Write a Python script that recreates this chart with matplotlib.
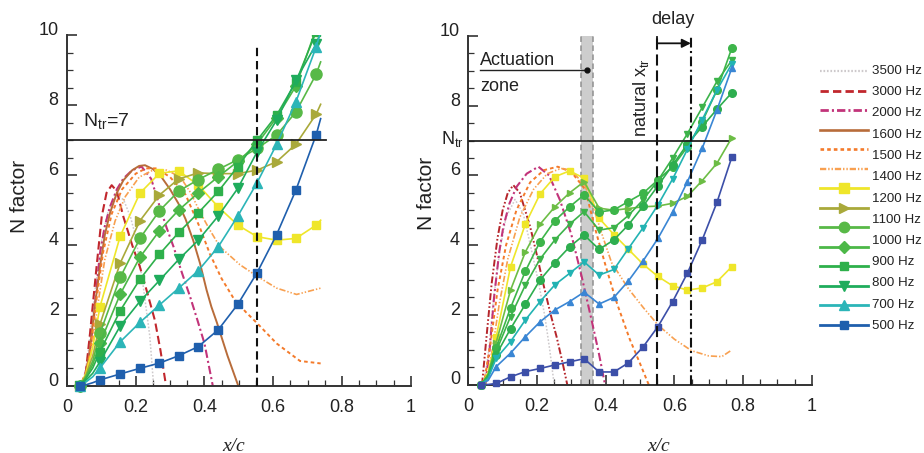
import numpy as np
import matplotlib
matplotlib.use("Agg")
import matplotlib.pyplot as plt
from matplotlib.ticker import MultipleLocator
import matplotlib.transforms as mtransforms

plt.rcParams['font.family'] = ['Liberation Sans', 'DejaVu Sans']
plt.rcParams['lines.scale_dashes'] = False

# ---------------- left panel data (baseline, N_tr = 7) ----------------
# marker curves share one x list; index 1 and 2 are line-only points
xl = [0.038, 0.055, 0.075, 0.096, 0.155, 0.212, 0.269, 0.325, 0.382, 0.44,
      0.497, 0.553, 0.61, 0.666, 0.725, 0.738]
l_yellow_sq = [0, 0.35, 1.1, 2.25, 4.27, 5.49, 6.06, 6.13, 5.72, 5.10, 4.58, 4.25, 4.15, 4.2, 4.58, 4.72]
l_olive_tri = [0, 0.3, 0.85, 1.75, 3.5, 4.7, 5.44, 5.9, 6.07, 6.05, 6.05, 6.15, 6.39, 6.89, 7.75, 8.03]
l_green_circ = [0, 0.25, 0.7, 1.49, 3.09, 4.2, 4.99, 5.55, 5.88, 6.17, 6.45, 6.77, 7.15, 7.81, 8.89, 9.24]
l_green_dia = [0, 0.22, 0.6, 1.21, 2.61, 3.66, 4.42, 5.01, 5.5, 5.96, 6.4, 6.9, 7.65, 8.55, 10.2, 10.6]
l_green_sq = [0, 0.2, 0.5, 0.97, 2.14, 3.03, 3.75, 4.37, 4.93, 5.54, 6.25, 7.0, 7.72, 8.67, 10.1, 10.5]
l_green_dn = [0, 0.15, 0.35, 0.68, 1.7, 2.4, 3.0, 3.6, 4.15, 4.84, 5.63, 6.67, 7.58, 8.72, 9.75, 10.1]
l_cyan_up = [0, 0.1, 0.25, 0.5, 1.25, 1.8, 2.3, 2.78, 3.28, 3.96, 4.84, 5.79, 6.89, 8.1, 9.67, 10.1]
l_blue_sq = [0, 0.02, 0.08, 0.16, 0.33, 0.49, 0.64, 0.85, 1.11, 1.59, 2.32, 3.22, 4.31, 5.58, 7.16, 7.62]
l_marker_idx = [0, 3, 4, 5, 6, 7, 8, 9, 10, 11, 12, 13, 14]

l_gray_x = [0.045, 0.06, 0.08, 0.1, 0.12, 0.145, 0.165, 0.185, 0.2, 0.222, 0.241, 0.252]
l_gray_y = [0, 0.8, 2.6, 4.1, 5.0, 5.45, 5.3, 4.8, 4.25, 2.82, 1.4, 0]
l_red_x = [0.04, 0.055, 0.067, 0.086, 0.101, 0.115, 0.13, 0.145, 0.164, 0.19, 0.212, 0.235, 0.256, 0.272, 0.288]
l_red_y = [0, 0.4, 1.49, 3.39, 4.82, 5.5, 5.72, 5.55, 4.82, 4.0, 3.39, 2.6, 1.85, 1.0, 0]
l_mag_x = [0.045, 0.062, 0.077, 0.096, 0.11, 0.125, 0.145, 0.164, 0.19, 0.217, 0.245, 0.27,
           0.29, 0.31, 0.335, 0.358, 0.38, 0.4, 0.424]
l_mag_y = [0, 0.6, 1.87, 3.78, 4.55, 5.1, 5.6, 5.91, 6.15, 6.25, 5.9, 5.1, 4.5, 3.96, 3.2, 2.54, 1.85, 1.2, 0]
l_brown_x = [0.048, 0.065, 0.08, 0.096, 0.11, 0.125, 0.145, 0.164, 0.19, 0.21, 0.227, 0.25, 0.275,
             0.3, 0.324, 0.345, 0.367, 0.387, 0.406, 0.42, 0.436, 0.467, 0.498]
l_brown_y = [0, 0.9, 2.2, 3.39, 4.3, 4.92, 5.5, 5.86, 6.15, 6.27, 6.29, 6.18, 5.95, 5.6, 5.2, 4.75,
             4.15, 3.49, 2.73, 2.25, 1.8, 0.85, 0]
l_orange_x = [0.048, 0.068, 0.085, 0.105, 0.13, 0.16, 0.2, 0.23, 0.261, 0.3, 0.345, 0.387, 0.416,
              0.45, 0.484, 0.52, 0.553, 0.61, 0.678, 0.738]
l_orange_y = [0, 1.0, 2.4, 3.8, 4.9, 5.6, 6.05, 6.2, 6.2, 5.95, 5.45, 4.5, 3.75, 3.05, 2.5, 2.1,
              1.78, 1.2, 0.7, 0.63]
l_lorange_x = [0.05, 0.07, 0.088, 0.11, 0.14, 0.17, 0.21, 0.25, 0.29, 0.33, 0.36, 0.387, 0.415,
               0.445, 0.503, 0.553, 0.61, 0.668, 0.738]
l_lorange_y = [0, 0.9, 2.2, 3.6, 4.7, 5.4, 5.95, 6.15, 6.15, 5.95, 5.5, 4.95, 4.45, 3.96, 3.45,
               3.12, 2.78, 2.6, 2.78]

# ---------------- right panel data (with actuation) ----------------
xr = [0.038, 0.058, 0.081, 0.123, 0.166, 0.209, 0.252, 0.295, 0.337, 0.381, 0.424, 0.466,
      0.509, 0.552, 0.595, 0.638, 0.681, 0.724, 0.767]
r_yellow_sq = [0, 0.35, 1.35, 3.38, 4.6, 5.47, 5.96, 6.13, 5.92, 4.77, 4.3, 3.88, 3.45, 3.1, 2.83, 2.71, 2.77, 2.95, 3.38]
r_lgreen_tri = [0, 0.3, 1.2, 2.71, 3.8, 4.6, 5.1, 5.5, 5.82, 5.06, 5.0, 5.05, 5.1, 5.12, 5.2, 5.4, 5.85, 6.35, 7.08]
r_green_circ = [0, 0.28, 1.05, 2.2, 3.25, 4.1, 4.7, 5.1, 5.44, 4.95, 5.01, 5.25, 5.49, 5.87, 6.25, 6.82, 7.54, 8.45, 9.65]
r_green_dn = [0, 0.25, 0.95, 1.95, 2.85, 3.6, 4.15, 4.6, 4.96, 4.43, 4.5, 4.85, 5.3, 5.85, 6.5, 7.2, 7.95, 8.7, 9.3]
r_green_circ2 = [0, 0.22, 0.85, 1.6, 2.3, 3.0, 3.5, 3.95, 4.29, 3.88, 4.15, 4.58, 5.12, 5.7, 6.3, 6.9, 7.4, 7.9, 8.37]
r_cyan_dn = [0, 0.18, 0.75, 1.23, 1.85, 2.38, 2.86, 3.19, 3.52, 3.14, 3.3, 3.9, 4.5, 5.15, 5.9, 6.75, 7.6, 8.45, 9.2]
r_blue_up = [0, 0.12, 0.51, 0.9, 1.37, 1.8, 2.14, 2.38, 2.65, 2.31, 2.5, 2.97, 3.55, 4.19, 4.95, 5.82, 6.78, 7.88, 9.08]
r_navy_sq = [0, 0.0, 0.03, 0.22, 0.37, 0.46, 0.56, 0.65, 0.74, 0.36, 0.36, 0.62, 1.08, 1.66, 2.38, 3.2, 4.15, 5.23, 6.52]
r_marker_idx = [0] + list(range(2, 19))

r_gray_x = [0.045, 0.06, 0.073, 0.092, 0.11, 0.136, 0.16, 0.184, 0.205, 0.223, 0.237, 0.25]
r_gray_y = [0, 1.0, 2.42, 3.86, 4.8, 5.31, 4.9, 3.86, 2.9, 1.95, 1.0, 0]
r_red_x = [0.04, 0.054, 0.068, 0.085, 0.1, 0.115, 0.131, 0.15, 0.18, 0.2, 0.218, 0.24, 0.257, 0.275, 0.288]
r_red_y = [0, 1.47, 2.9, 4.2, 5.0, 5.5, 5.72, 5.5, 4.53, 3.7, 2.9, 2.0, 1.37, 0.6, 0]
r_mag_x = [0.05, 0.062, 0.075, 0.09, 0.102, 0.12, 0.141, 0.17, 0.204, 0.235, 0.267, 0.3, 0.33, 0.36, 0.38, 0.398]
r_mag_y = [0, 1.0, 2.5, 3.8, 4.53, 5.2, 5.68, 6.05, 6.25, 6.0, 5.29, 4.3, 3.1, 1.8, 0.9, 0]
r_orange_x = [0.045, 0.065, 0.085, 0.11, 0.14, 0.18, 0.22, 0.26, 0.3, 0.34, 0.374, 0.4, 0.432, 0.47, 0.5, 0.525]
r_orange_y = [0, 1.2, 2.7, 4.0, 5.0, 5.8, 6.15, 6.25, 6.1, 5.6, 4.3, 3.4, 2.35, 1.3, 0.6, 0]
r_lorange_x = [0.05, 0.07, 0.09, 0.115, 0.15, 0.19, 0.23, 0.27, 0.3, 0.34, 0.37, 0.393, 0.417, 0.466,
               0.51, 0.553, 0.6, 0.65, 0.7, 0.738, 0.767]
r_lorange_y = [0, 1.0, 2.3, 3.6, 4.8, 5.6, 6.05, 6.2, 6.15, 5.7, 4.9, 4.2, 3.5, 2.75, 2.2, 1.7, 1.3,
               0.97, 0.82, 0.8, 0.99]

legend_labels = ['3500 Hz', '3000 Hz', '2000 Hz', '1600 Hz', '1500 Hz', '1400 Hz', '1200 Hz',
                 '1100 Hz', '1000 Hz', '900 Hz', '800 Hz', '700 Hz', '500 Hz']

# line styles
gray = dict(color='#cdc9cb', ls=(0, (1.2, 1.3)), lw=1.1)
red = dict(color='#c1272d', ls=(0, (6, 3)), lw=1.5)
red_r = dict(color='#b5252b', ls=(0, (5, 1.6, 1.2, 1.6, 1.2, 1.6)), lw=1.4)
mag = dict(color='#c2347a', ls=(0, (6, 2.2, 1.5, 2.2)), lw=1.5)
brown = dict(color='#b86c3a', ls='-', lw=1.4)
orange = dict(color='#f47a2a', ls=(0, (2.6, 2.2)), lw=1.4)
lorange = dict(color='#f8a050', ls=(0, (4.5, 1.4, 1, 1.4, 1, 1.4)), lw=1.2)

marker_styles = [
    dict(color='#efe62a', marker='s'),
    dict(color='#a9a93a', marker='>'),
    dict(color='#58b947', marker='o'),
    dict(color='#4cb848', marker='D'),
    dict(color='#2eb04b', marker='s'),
    dict(color='#1fac5c', marker='v'),
    dict(color='#2cb5b8', marker='^'),
    dict(color='#1f5fad', marker='s'),
]

fig = plt.figure(figsize=(9.24, 4.53), dpi=100)


def px_axes(x0, x1, y0, y10, ymin):
    # axes rect in figure fraction from pixel positions of x=0,1 and y=0,10
    per = (y0 - y10) / 10.0
    bottom = y0 - ymin * per
    return [x0 / 924, (453 - bottom) / 453, (x1 - x0) / 924, (bottom - y10) / 453]


YMIN = -0.25
axL = fig.add_axes(px_axes(67, 410.7, 385.5, 35.3, YMIN))
axR = fig.add_axes(px_axes(468.3, 811.8, 384.5, 36.0, YMIN))

for ax in (axL, axR):
    ax.set_xlim(0, 1)
    ax.set_ylim(YMIN, 10)
    ax.patch.set_alpha(0)
    for s in ('top', 'right'):
        ax.spines[s].set_visible(False)
    ax.spines['bottom'].set_position(('data', 0))
    ax.spines['left'].set_bounds(0, 10)
    for s in ('left', 'bottom'):
        ax.spines[s].set_linewidth(1.4)
        ax.spines[s].set_color('#333333')
    ax.set_xticks([0, 0.2, 0.4, 0.6, 0.8, 1.0])
    ax.set_xticklabels(['0', '0.2', '0.4', '0.6', '0.8', '1'])
    ax.set_yticks([0, 2, 4, 6, 8, 10])
    ax.xaxis.set_minor_locator(MultipleLocator(0.05))
    ax.yaxis.set_minor_locator(MultipleLocator(0.5))
    ax.tick_params(which='both', direction='in', color='#333333', labelsize=13, labelcolor='#222222')
    ax.tick_params(which='major', length=7.5, width=1.2)
    ax.tick_params(which='minor', length=4, width=0.9)
    ax.tick_params(axis='x', pad=10)
    ax.tick_params(axis='y', pad=6)
    for lab in ax.get_yticklabels():
        lab.set_verticalalignment('baseline')

# ---------- left panel ----------
for (xs, ys, st) in [(l_gray_x, l_gray_y, gray), (l_red_x, l_red_y, red), (l_mag_x, l_mag_y, mag),
                     (l_brown_x, l_brown_y, brown), (l_orange_x, l_orange_y, orange),
                     (l_lorange_x, l_lorange_y, lorange)]:
    axL.plot(xs, ys, color=st['color'], ls=st['ls'], lw=st['lw'], zorder=2)

l_series = [l_yellow_sq, l_olive_tri, l_green_circ, l_green_dia, l_green_sq, l_green_dn, l_cyan_up, l_blue_sq]
l_ms = [6, 7, 8, 6, 6, 7, 7, 6]
for ys, st, ms in zip(l_series, marker_styles, l_ms):
    axL.plot(xl, ys, color=st['color'], marker=st['marker'], ms=ms, mec=st['color'],
             lw=1.2, markevery=l_marker_idx, zorder=3)

axL.axhline(7, xmin=0, xmax=0.755, color='#222222', lw=1.3, zorder=4)
axL.plot([0.553, 0.553], [0, 9.78], color='#111111', lw=1.5, ls=(0, (6, 3.5)), zorder=4)
axL.text(0.047, 7.39, 'N$_{\\mathregular{tr}}$=7', fontsize=14, ha='left', va='baseline', color='#222222')

# ---------- right panel ----------
axR.fill_between([0.329, 0.362], 0, 10, color='#cdcdcd', lw=0, zorder=0)
for xv in (0.329, 0.362):
    axR.plot([xv, xv], [0, 10], color='#8f8f8f', lw=1.1, ls=(0, (4, 2.5)), zorder=1)

for (xs, ys, st) in [(r_gray_x, r_gray_y, gray), (r_red_x, r_red_y, red_r), (r_mag_x, r_mag_y, mag),
                     (r_orange_x, r_orange_y, orange), (r_lorange_x, r_lorange_y, lorange)]:
    axR.plot(xs, ys, color=st['color'], ls=st['ls'], lw=st['lw'], zorder=2)

r_series = [r_yellow_sq, r_lgreen_tri, r_green_circ, r_green_dn, r_green_circ2, r_cyan_dn, r_blue_up, r_navy_sq]
r_styles = [
    dict(color='#efe62a', marker='s', ms=4.5),
    dict(color='#6cbd45', marker='>', ms=4.5),
    dict(color='#3db54a', marker='o', ms=5.5),
    dict(color='#3cb34a', marker='v', ms=4.5),
    dict(color='#2eae4f', marker='o', ms=5.5),
    dict(color='#22b3b3', marker='v', ms=5),
    dict(color='#3a86d4', marker='^', ms=5),
    dict(color='#3c4fa8', marker='s', ms=4.5),
]
for ys, st in zip(r_series, r_styles):
    axR.plot(xr, ys, color=st['color'], marker=st['marker'], ms=st['ms'], mec=st['color'],
             lw=1.2, markevery=r_marker_idx, zorder=3)

axR.axhline(7, xmin=0, xmax=0.756, color='#222222', lw=1.3, zorder=4)
axR.plot([0.55, 0.55], [0, 9.98], color='#111111', lw=1.5, ls=(0, (8, 3.5)), zorder=4)
axR.plot([0.55, 0.55], [9.98, 9.79], color='#111111', lw=1.3, zorder=4)
axR.plot([0.648, 0.648], [0, 9.98], color='#111111', lw=1.5, ls=(0, (7, 2.5, 1.5, 2.5)), zorder=4)
axR.annotate('', xy=(0.648, 9.79), xytext=(0.55, 9.79),
             arrowprops=dict(arrowstyle='-|>', color='#111111', lw=1.3, mutation_scale=13,
                             shrinkA=0, shrinkB=0))
axR.text(0.596, 10.48, 'delay', fontsize=13, ha='center', va='center', color='#222222')
axR.text(0.503, 8.22, 'natural x$_{\\mathregular{tr}}$', fontsize=13, rotation=90,
         ha='center', va='center', color='#222222')

axR.plot([0.034, 0.347], [9.02, 9.02], color='#222222', lw=1.0, zorder=4)
axR.plot([0.347], [9.02], 'o', ms=3.5, color='#111111', zorder=5)
axR.text(0.034, 9.17, 'Actuation', fontsize=13, ha='left', va='baseline', color='#222222')
axR.text(0.034, 8.42, 'zone', fontsize=13, ha='left', va='baseline', color='#222222')

trans = mtransforms.blended_transform_factory(axR.transAxes, axR.transData)
axR.text(-0.012, 7.05, 'N$_{\\mathregular{tr}}$', transform=trans, fontsize=13,
         ha='right', va='center', color='#222222')

# axis labels
for ax, lx, ly, nx, ny in [(axL, 0.484, -0.145, -0.137, 0.55), (axR, 0.555, -0.148, -0.123, 0.558)]:
    ax.text(lx, ly, 'x/c', transform=ax.transAxes, fontsize=14, ha='center', va='center',
            family='Liberation Serif', style='italic', color='#222222')
    ax.text(nx, ny, 'N factor', transform=ax.transAxes, fontsize=15, rotation=90,
            ha='center', va='center', color='#222222')

# ---------- manual legend (14 line samples, 13 labels) ----------
axO = fig.add_axes([0, 0, 1, 1])
axO.set_xlim(0, 924)
axO.set_ylim(453, 0)
axO.axis('off')
leg_line_y = np.linspace(71, 325, 14)
leg_text_y = np.linspace(71, 326, 13)
leg_styles = [gray, red, mag, brown, orange, lorange] + marker_styles
leg_ms = [None] * 6 + [6.5, 6.5, 7.5, 6, 6, 6.5, 6.5, 6]
for yy, st, ms in zip(leg_line_y, leg_styles, leg_ms):
    if 'marker' in st:
        axO.plot([820, 844, 868], [yy, yy, yy], color=st['color'], lw=2, marker=st['marker'],
                 ms=ms, markevery=[1], mec=st['color'])
    else:
        axO.plot([820, 868], [yy, yy], color=st['color'], ls=st['ls'], lw=st['lw'] + 0.5)
for yy, lab in zip(leg_text_y, legend_labels):
    axO.text(872, yy, lab, fontsize=9.6, ha='left', va='center', color='#222222', clip_on=False)

fig.savefig('out.png', dpi=100)
